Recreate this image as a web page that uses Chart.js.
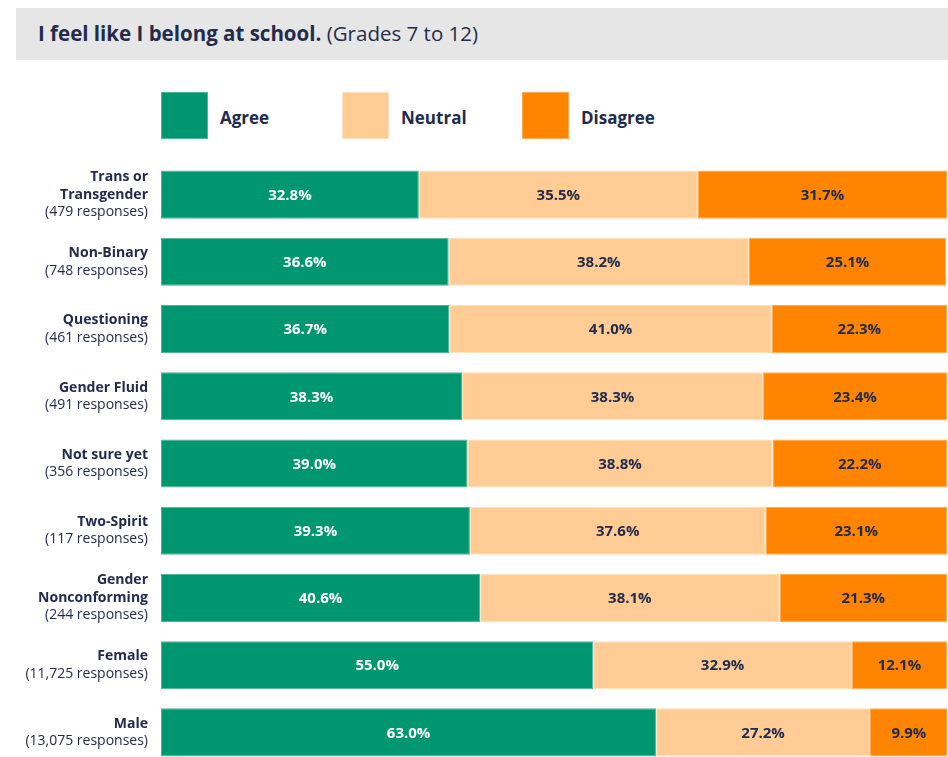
<!DOCTYPE html>
<html>
<head>
<meta charset="utf-8">
<script src="https://cdn.jsdelivr.net/npm/chart.js@4"></script>
<style>
    body { margin: 0; width: 948px; height: 757px; overflow: hidden; background: #fff; font-family: "Open Sans", sans-serif; color: #232b4d; position: relative; }
    .title { position: absolute; left: 16px; top: 8px; width: 932px; height: 52px; background: #e6e6e6; }
    .title span { position: absolute; left: 22px; top: 11px; font-size: 20.5px; white-space: nowrap; }
    .legend { position: absolute; top: 92px; left: 0; }
    .legend div { position: absolute; top: 0; width: 47px; height: 47px; box-sizing: border-box; border: 1px solid; }
    .legend p { position: absolute; top: 2px; margin: 0; line-height: 47px; font-size: 17px; font-weight: bold; white-space: nowrap; }
    #wrap { position: absolute; left: 0; top: 150px; width: 948px; height: 620px; }
</style>
</head>
<body>
<div class="title"><span><b>I feel like I belong at school.</b> (Grades 7 to 12)</span></div>
<div class="legend" id="legend"></div>
<div id="wrap"><canvas id="belong"></canvas></div>
<script>
var groups = ['Trans or|Transgender', 'Non-Binary', 'Questioning', 'Gender Fluid', 'Not sure yet', 'Two-Spirit', 'Gender|Nonconforming', 'Female', 'Male'];
var responses = ['479', '748', '461', '491', '356', '117', '244', '11,725', '13,075'];
var agree = [32.8, 36.6, 36.7, 38.3, 39.0, 39.3, 40.6, 55.0, 63.0];
var neutral = [35.5, 38.2, 41.0, 38.3, 38.8, 37.6, 38.1, 32.9, 27.2];
var disagree = [31.7, 25.1, 22.3, 23.4, 22.2, 23.1, 21.3, 12.1, 9.9];

var seriesNames = ['Agree', 'Neutral', 'Disagree'];
var colors = ['#009670', '#ffcc96', '#ff8400'];
var edges = ['#4db597', '#ffe0bd', '#ffab52'];
var textColors = ['#ffffff', '#232b4d', '#232b4d'];
var navy = '#232b4d';

// legend in html, same spacing as the original
var legendX = [161, 342, 522];
var legendEl = document.getElementById('legend');
seriesNames.forEach(function(name, i) {
    var box = document.createElement('div');
    box.style.left = legendX[i] + 'px';
    box.style.background = colors[i];
    box.style.borderColor = edges[i];
    legendEl.appendChild(box);
    var label = document.createElement('p');
    label.style.left = (legendX[i] + 59) + 'px';
    label.textContent = name;
    legendEl.appendChild(label);
});

// group names (bold) + response counts drawn left of the bars
var groupLabels = {
    id: 'groupLabels',
    afterDraw: function(chart) {
        var ctx = chart.ctx;
        var y = chart.scales.y;
        var lineH = 17.5;
        ctx.save();
        ctx.textAlign = 'right';
        ctx.textBaseline = 'middle';
        ctx.fillStyle = navy;
        groups.forEach(function(g, i) {
            var lines = g.split('|');
            var total = lines.length + 1;
            var cy = y.getPixelForValue(i);
            var top = cy - (total - 1) * lineH / 2;
            ctx.font = 'bold 14px "Open Sans"';
            lines.forEach(function(l, j) {
                ctx.fillText(l, 148, top + j * lineH);
            });
            ctx.font = '14px "Open Sans"';
            ctx.fillText('(' + responses[i] + ' responses)', 148, top + lines.length * lineH);
        });
        ctx.restore();
    }
};

// percentage inside each segment
var valueLabels = {
    id: 'valueLabels',
    afterDatasetsDraw: function(chart) {
        var ctx = chart.ctx;
        ctx.save();
        ctx.textAlign = 'center';
        ctx.textBaseline = 'middle';
        ctx.font = 'bold 15px "Open Sans"';
        chart.data.datasets.forEach(function(ds, di) {
            var meta = chart.getDatasetMeta(di);
            ctx.fillStyle = textColors[di];
            meta.data.forEach(function(bar, i) {
                var x = (bar.x + bar.base) / 2;
                ctx.fillText(ds.data[i].toFixed(1) + '%', x, bar.y + 1);
            });
        });
        ctx.restore();
    }
};

var sets = [agree, neutral, disagree];
var ctx1 = document.querySelector('#belong');
var myChart = new Chart(ctx1, {
    type: 'bar',
    data: {
        labels: groups,
        datasets: sets.map(function(vals, i) {
            return {
                label: seriesNames[i],
                data: vals,
                backgroundColor: colors[i],
                hoverBackgroundColor: colors[i],
                borderColor: edges[i],
                borderWidth: 1,
                borderSkipped: false,
                barPercentage: 0.715,
                categoryPercentage: 1
            };
        })
    },
    plugins: [groupLabels, valueLabels],
    options: {
        indexAxis: 'y',
        responsive: true,
        maintainAspectRatio: false,
        animation: false,
        layout: { padding: { left: 161, right: 1, top: 11, bottom: 4 } },
        plugins: {
            legend: { display: false },
            tooltip: { enabled: false }
        },
        scales: {
            x: { stacked: true, min: 0, max: 100, display: false },
            y: { stacked: true, display: false }
        }
    }
});
</script>
</body>
</html>
